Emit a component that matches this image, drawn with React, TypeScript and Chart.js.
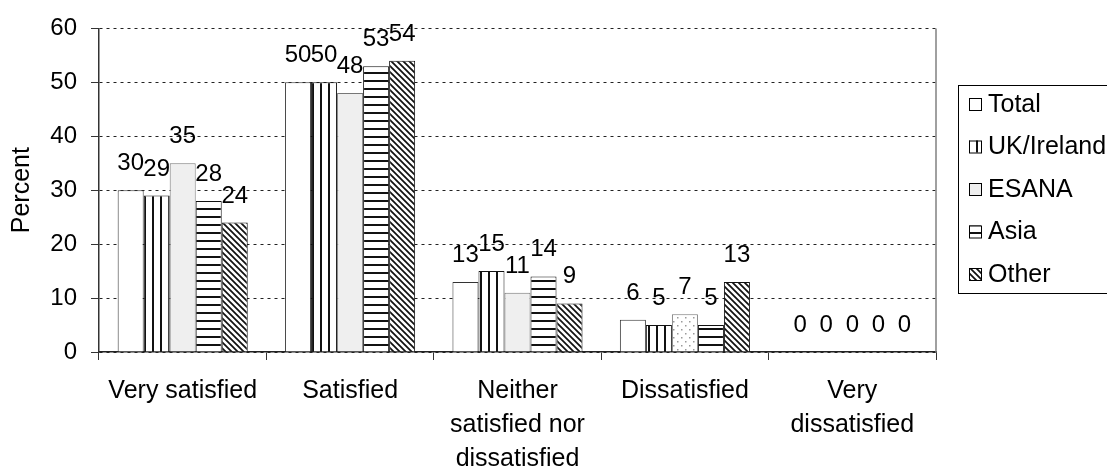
import React, { useEffect, useRef } from "react";
import { Chart, registerables } from "chart.js";

Chart.register(...registerables);

const categories: (string | string[])[] = [
  "Very satisfied",
  "Satisfied",
  ["Neither", "satisfied nor", "dissatisfied"],
  "Dissatisfied",
  ["Very", "dissatisfied"],
];
const seriesNames = ["Total", "UK/Ireland", "ESANA", "Asia", "Other"];
const totalValues = [30, 50, 13, 6, 0];
const ukIrelandValues = [29, 50, 15, 5, 0];
const esanaValues = [35, 48, 11, 7, 0];
const asiaValues = [28, 53, 14, 5, 0];
const otherValues = [24, 54, 9, 13, 0];
const yTickValues = [0, 10, 20, 30, 40, 50, 60];
const yAxisTitle = "Percent";

const FONT = "'Liberation Sans', Arial, Helvetica, sans-serif";

function makePattern(kind: string): CanvasPattern | string {
  const s = kind === "hatch" ? 6 : 8;
  const c = document.createElement("canvas");
  c.width = s;
  c.height = s;
  const g = c.getContext("2d")!;
  g.fillStyle = "#ffffff";
  g.fillRect(0, 0, s, s);
  if (kind === "vertical") {
    g.fillStyle = "#111";
    g.fillRect(0, 0, 2, s);
  } else if (kind === "horizontal") {
    g.fillStyle = "#111";
    g.fillRect(0, 0, s, 2);
  } else if (kind === "hatch") {
    g.strokeStyle = "#111";
    g.lineWidth = 1.7;
    g.beginPath();
    g.moveTo(-1, -1);
    g.lineTo(s + 1, s + 1);
    g.moveTo(s - 1, -1);
    g.lineTo(s + 1, 1);
    g.moveTo(-1, s - 1);
    g.lineTo(1, s + 1);
    g.stroke();
  } else if (kind === "dots") {
    g.fillStyle = "#9a9a9a";
    g.fillRect(1, 1, 1.5, 1.5);
    g.fillRect(5, 5, 1.5, 1.5);
  }
  return g.createPattern(c, "repeat") || "#fff";
}

export default function App() {
  const ref = useRef<HTMLCanvasElement | null>(null);

  useEffect(() => {
    if (!ref.current) return;
    const vertical = makePattern("vertical");
    const horizontal = makePattern("horizontal");
    const hatch = makePattern("hatch");
    const dots = makePattern("dots");
    const esanaGray = "#efefef";

    const esanaFills = esanaValues.map((_, i) => (i === 3 ? dots : esanaGray));

    const legendFills: any[] = ["#ffffff", vertical, esanaGray, horizontal, hatch];

    const borderW = (c: any) => (c.raw === 0 ? 0 : 1);

    const dataLabels = {
      id: "dataLabels",
      afterDatasetsDraw(chart: any) {
        const ctx = chart.ctx;
        ctx.save();
        ctx.font = `24px ${FONT}`;
        ctx.fillStyle = "#000";
        ctx.textAlign = "center";
        ctx.textBaseline = "alphabetic";
        chart.data.datasets.forEach((ds: any, di: number) => {
          const meta = chart.getDatasetMeta(di);
          meta.data.forEach((el: any, i: number) => {
            ctx.fillText(String(ds.data[i]), el.x, el.y - 20);
          });
        });
        ctx.restore();
      },
    };

    const frame = {
      id: "frame",
      afterDraw(chart: any) {
        const ctx = chart.ctx;
        const a = chart.chartArea;
        ctx.save();
        ctx.strokeStyle = "#808080";
        ctx.lineWidth = 1.5;
        ctx.beginPath();
        ctx.moveTo(a.right, a.top);
        ctx.lineTo(a.right, a.bottom);
        ctx.stroke();

        // legend
        const lx = a.right + 22;
        const ly = 85;
        ctx.strokeStyle = "#000";
        ctx.lineWidth = 1;
        ctx.strokeRect(lx + 0.5, ly + 0.5, 200, 208);
        ctx.font = `25px ${FONT}`;
        ctx.textAlign = "left";
        ctx.textBaseline = "middle";
        chart.data.datasets.forEach((ds: any, i: number) => {
          const cy = ly + 19 + i * 42.5;
          ctx.fillStyle = legendFills[i];
          ctx.fillRect(lx + 11, cy - 6, 12, 12);
          ctx.strokeStyle = "#000";
          ctx.strokeRect(lx + 11.5, cy - 5.5, 12, 12);
          ctx.fillStyle = "#000";
          ctx.fillText(ds.label, lx + 30, cy + 1);
        });
        ctx.restore();
      },
    };

    const chart = new Chart(ref.current, {
      type: "bar",
      data: {
        labels: categories as any,
        datasets: [
          { label: seriesNames[0], data: totalValues, backgroundColor: "#ffffff", borderColor: "#333", borderWidth: borderW as any },
          { label: seriesNames[1], data: ukIrelandValues, backgroundColor: vertical as any, borderColor: "#111", borderWidth: borderW as any },
          { label: seriesNames[2], data: esanaValues, backgroundColor: esanaFills as any, borderColor: "#777", borderWidth: borderW as any },
          { label: seriesNames[3], data: asiaValues, backgroundColor: horizontal as any, borderColor: "#111", borderWidth: borderW as any },
          { label: seriesNames[4], data: otherValues, backgroundColor: hatch as any, borderColor: "#111", borderWidth: borderW as any },
        ],
      },
      options: {
        responsive: false,
        animation: false,
        devicePixelRatio: 1,
        layout: { padding: { left: 0, top: 27, right: 171, bottom: 0 } },
        datasets: { bar: { categoryPercentage: 0.777, barPercentage: 1 } },
        plugins: { legend: { display: false }, tooltip: { enabled: false } },
        scales: {
          x: {
            offset: true,
            grid: {
              offset: true,
              drawOnChartArea: false,
              drawTicks: true,
              tickLength: 8,
              color: "#333",
              tickColor: "#333",
            },
            border: { display: true, color: "#222", width: 1.5 },
            ticks: {
              color: "#000",
              padding: 14,
              maxRotation: 0,
              autoSkip: false,
              font: { family: FONT, size: 25, lineHeight: 1.36 },
            },
            afterFit(scale: any) {
              scale.height = 114;
            },
          },
          y: {
            min: 0,
            max: 60,
            afterBuildTicks(scale: any) {
              scale.ticks = yTickValues.map((v) => ({ value: v }));
            },
            grid: {
              color: "#222",
              lineWidth: 1,
              tickLength: 8,
              tickColor: "#333",
              tickBorderDash: [],
            } as any,
            border: { display: true, color: "#333", width: 1.5, dash: [3, 4] },
            ticks: {
              color: "#000",
              padding: 14,
              font: { family: FONT, size: 24 },
            },
            title: {
              display: true,
              text: yAxisTitle,
              color: "#000",
              font: { family: FONT, size: 25 },
              padding: { top: 7, bottom: 0 },
            },
            afterFit(scale: any) {
              scale.width = 99;
            },
          },
        },
      },
      plugins: [dataLabels, frame],
    });
    return () => chart.destroy();
  }, []);

  return (
    <div style={{ position: "absolute", left: 0, top: 0, width: 1107, height: 466, background: "#fff" }}>
      <canvas ref={ref} width={1107} height={466} />
    </div>
  );
}
